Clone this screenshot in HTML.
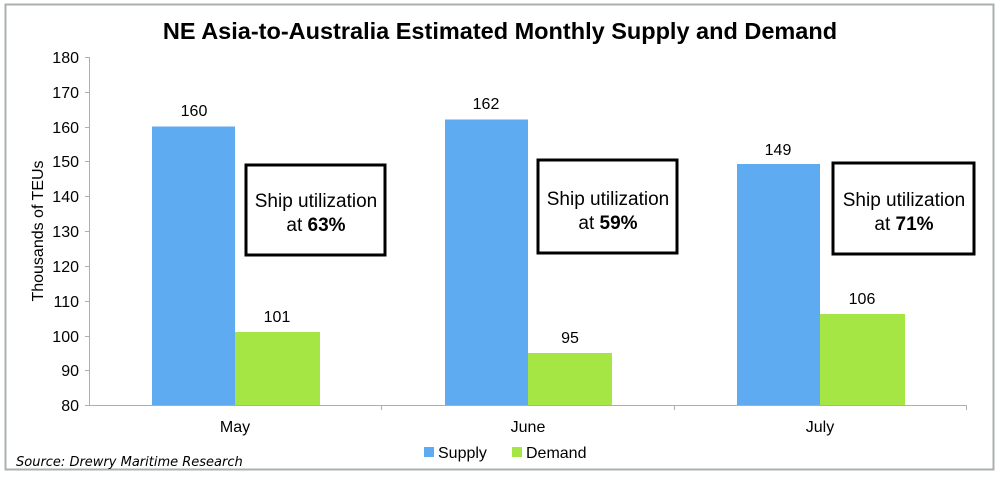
<!DOCTYPE html>
<html><head><style>body{margin:0;background:#fff}</style></head><body>
<svg width="1000" height="475" xmlns="http://www.w3.org/2000/svg" font-family="Liberation Sans, Arial, sans-serif">
<rect x="0" y="0" width="1000" height="475" fill="#fff"/>
<rect x="5.5" y="4.5" width="988" height="465" fill="none" stroke="#a9b0b0" stroke-width="2"/>
<text x="500" y="39" text-anchor="middle" font-size="23.5" font-weight="bold" fill="#000">NE Asia-to-Australia Estimated Monthly Supply and Demand</text>
<g stroke="#a8b0b0" stroke-width="1">
<line x1="89.5" y1="57" x2="89.5" y2="405"/>
<line x1="89" y1="405.5" x2="967" y2="405.5"/>
<line x1="85" y1="57.5" x2="89" y2="57.5"/><line x1="85" y1="92.5" x2="89" y2="92.5"/><line x1="85" y1="127.5" x2="89" y2="127.5"/><line x1="85" y1="161.5" x2="89" y2="161.5"/><line x1="85" y1="196.5" x2="89" y2="196.5"/><line x1="85" y1="231.5" x2="89" y2="231.5"/><line x1="85" y1="266.5" x2="89" y2="266.5"/><line x1="85" y1="301.5" x2="89" y2="301.5"/><line x1="85" y1="336.5" x2="89" y2="336.5"/><line x1="85" y1="370.5" x2="89" y2="370.5"/><line x1="85" y1="405.5" x2="89" y2="405.5"/>
<line x1="381.5" y1="405" x2="381.5" y2="410"/><line x1="674.5" y1="405" x2="674.5" y2="410"/><line x1="966.5" y1="405" x2="966.5" y2="410"/>
</g>
<g font-size="16" text-anchor="end" fill="#000">
<text x="79" y="63">180</text><text x="79" y="98">170</text><text x="79" y="133">160</text><text x="79" y="167">150</text><text x="79" y="202">140</text><text x="79" y="237">130</text><text x="79" y="272">120</text><text x="79" y="307">110</text><text x="79" y="342">100</text><text x="79" y="376">90</text><text x="79" y="411">80</text>
</g>
<text transform="translate(43,231) rotate(-90)" text-anchor="middle" font-size="16">Thousands of TEUs</text>
<g fill="#5fabf2">
<rect x="152" y="126.5" width="83" height="278.5"/>
<rect x="445" y="119.5" width="83" height="285.5"/>
<rect x="737" y="164" width="83" height="241"/>
</g>
<g fill="#a5e645">
<rect x="235" y="332" width="85" height="73"/>
<rect x="528" y="353" width="84" height="52"/>
<rect x="820" y="314" width="85" height="91"/>
</g>
<g font-size="16" text-anchor="middle">
<text x="194" y="116">160</text><text x="277" y="322">101</text>
<text x="486" y="109">162</text><text x="570" y="343">95</text>
<text x="778" y="155">149</text><text x="862" y="304">106</text>
<text x="235" y="432">May</text><text x="528" y="432">June</text><text x="820" y="432">July</text>
</g>
<g fill="#fff" stroke="#000" stroke-width="3">
<rect x="246" y="165" width="139" height="90"/>
<rect x="538" y="160" width="139" height="93"/>
<rect x="833" y="163" width="141" height="91"/>
</g>
<g font-size="19" text-anchor="middle">
<text x="316" y="207">Ship utilization</text><text x="316" y="231">at <tspan font-weight="bold">63%</tspan></text>
<text x="608" y="205">Ship utilization</text><text x="608" y="229">at <tspan font-weight="bold">59%</tspan></text>
<text x="904" y="206">Ship utilization</text><text x="904" y="230">at <tspan font-weight="bold">71%</tspan></text>
</g>
<rect x="424" y="447" width="10" height="10" fill="#5fabf2"/>
<text x="438" y="458" font-size="16">Supply</text>
<rect x="512" y="447" width="10" height="10" fill="#a5e645"/>
<text x="526" y="458" font-size="16">Demand</text>
<text x="16" y="466" font-size="13" font-style="italic" font-family="DejaVu Sans, sans-serif">Source: Drewry Maritime Research</text>
</svg>
</body></html>
